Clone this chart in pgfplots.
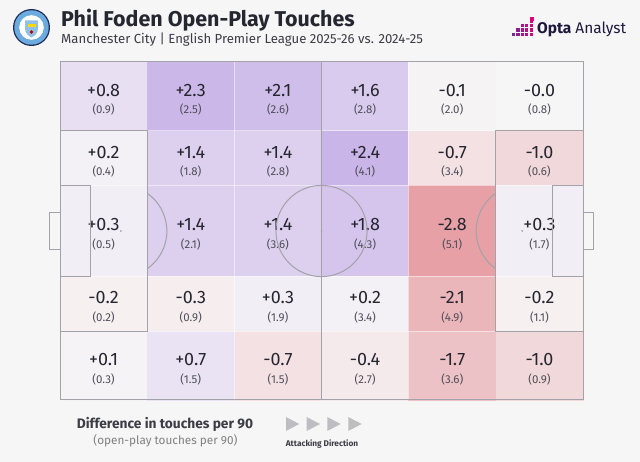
\documentclass[border=0pt]{standalone}
\usepackage{pgfplots}
\pgfplotsset{compat=1.18}
\usepackage{pgfplotstable}
\usepackage{fontspec}
\setmainfont{Fira Sans}

\definecolor{bg}{RGB}{246,246,247}
\definecolor{pitchline}{RGB}{162,162,168}
\definecolor{ink}{RGB}{38,38,48}
\definecolor{subink}{RGB}{78,78,88}
\definecolor{legendink}{RGB}{60,60,68}
\definecolor{arrowgrey}{RGB}{190,190,194}
\definecolor{cityblue}{RGB}{108,171,221}
\definecolor{citynavy}{RGB}{28,44,91}
\definecolor{optanavy}{RGB}{30,24,60}
\definecolor{optapink}{RGB}{226,0,122}
\definecolor{optapurple}{RGB}{120,40,150}

\pgfplotsset{colormap={touchdiff}{
  rgb255(0cm)=(230,155,160)
  rgb255(3cm)=(247,246,247)
  rgb255(6cm)=(190,165,228)}}

\tikzset{pitch/.style={draw=pitchline, line width=1.0bp}}

\pgfdeclareplotmark{blank}{}

% zones: centre x, centre y, half width, half height,
% change in open-play touches per 90, 2025-26 touches per 90
\pgfplotstableread{
x     y      hw    hh    d     t
8.75  61.08  8.75  6.92  +0.8  0.9
26.25 61.08  8.75  6.92  +2.3  2.5
43.75 61.08  8.75  6.92  +2.1  2.6
61.25 61.08  8.75  6.92  +1.6  2.8
78.75 61.08  8.75  6.92  -0.1  2.0
96.25 61.08  8.75  6.92  -0.0  0.8
8.75  48.66  8.75  5.50  +0.2  0.4
26.25 48.66  8.75  5.50  +1.4  1.8
43.75 48.66  8.75  5.50  +1.4  2.8
61.25 48.66  8.75  5.50  +2.4  4.1
78.75 48.66  8.75  5.50  -0.7  3.4
96.25 48.66  8.75  5.50  -1.0  0.6
8.75  34.00  8.75  9.16  +0.3  0.5
26.25 34.00  8.75  9.16  +1.4  2.1
43.75 34.00  8.75  9.16  +1.4  3.6
61.25 34.00  8.75  9.16  +1.8  4.3
78.75 34.00  8.75  9.16  -2.8  5.1
96.25 34.00  8.75  9.16  +0.3  1.7
8.75  19.34  8.75  5.50  -0.2  0.2
26.25 19.34  8.75  5.50  -0.3  0.9
43.75 19.34  8.75  5.50  +0.3  1.9
61.25 19.34  8.75  5.50  +0.2  3.4
78.75 19.34  8.75  5.50  -2.1  4.9
96.25 19.34  8.75  5.50  -0.2  1.1
8.75  6.92   8.75  6.92  +0.1  0.3
26.25 6.92   8.75  6.92  +0.7  1.5
43.75 6.92   8.75  6.92  -0.7  1.5
61.25 6.92   8.75  6.92  -0.4  2.7
78.75 6.92   8.75  6.92  -1.7  3.6
96.25 6.92   8.75  6.92  -1.0  0.9
}\zones

\newcommand{\bigfont}{\fontsize{18}{18}\selectfont}
\newcommand{\smallfont}{\fontsize{11.5}{12}\selectfont}

\begin{document}
\begin{tikzpicture}[x=1bp,y=1bp]
\fill[bg] (0,0) rectangle (640,462);

% club crest
\begin{scope}[shift={(31.5,434.5)}]
  \fill[citynavy] (0,0) circle (18.5);
  \fill[cityblue] (0,0) circle (17.2);
  \fill[white] (0,0) circle (12.3);
  \fill[cityblue!75] (-6.5,7) -- (6.5,7) -- (6.5,-1)
     .. controls (6.5,-6) and (3,-8.5) .. (0,-10)
     .. controls (-3,-8.5) and (-6.5,-6) .. (-6.5,-1) -- cycle;
  \fill[yellow!75!orange] (-4,3.5) rectangle (4,0.5);
  \fill[red!75!black] (0,-4.5) circle (1.8);
\end{scope}

% title block
\node[anchor=base west, inner sep=0, text=ink] at (61,435.3)
  {\fontsize{21.5}{22}\selectfont\bfseries Phil Foden Open-Play Touches};
\node[anchor=base west, inner sep=0, text=legendink] at (61,418.7)
  {\fontsize{13.2}{14}\selectfont Manchester City | English Premier League 2025-26 vs. 2024-25};

% publisher mark
\foreach \c/\h in {0/1,1/2,2/3,3/3,4/4}{
  \foreach \r in {1,...,\h}{
    \pgfmathsetmacro{\mix}{100-20*\c}
    \fill[optapurple!\mix!optapink] (512+4.4*\c,421.5+4.4*\r) rectangle ++(3.2,3.2);
  }
}
\fill[optapink] (529.6,440.5) rectangle ++(4.8,4.8);
\node[anchor=base west, inner sep=0, text=optanavy] at (537,428.7)
  {\fontsize{15.5}{16}\selectfont\textbf{Opta} Analyst};

\begin{axis}[
  at={(60bp,62bp)}, anchor=south west,
  scale only axis, width=523bp, height=338bp,
  xmin=0, xmax=105, ymin=0, ymax=68,
  hide axis, clip=false, set layers=standard,
  colormap name=touchdiff,
  point meta min=-3, point meta max=3,
]
% coloured zones with their labels
\addplot[
  scatter, only marks, mark=blank,
  point meta=\thisrow{d},
  visualization depends on={\thisrow{hw} \as \hw},
  visualization depends on={\thisrow{hh} \as \hh},
  visualization depends on={value \coordindex \as \idx},
  scatter/@pre marker code/.append code={
    \fill[mapped color] (axis direction cs:-\hw,-\hh) rectangle (axis direction cs:\hw,\hh);
    \pgfplotstablegetelem{\idx}{d}\of\zones
    \node[anchor=base, inner sep=0pt, text=ink, font=\bigfont] at (0,0) {\pgfplotsretval};
    \pgfplotstablegetelem{\idx}{t}\of\zones
    \node[anchor=base, inner sep=0pt, text=subink, font=\smallfont] at (0,-17.5bp) {(\pgfplotsretval)};
  },
] table {\zones};

\begin{pgfonlayer}{axis foreground}
% faint zone separators
\pgfplotsinvokeforeach{35,70}{
  \draw[white, opacity=0.5, line width=0.7bp] (axis cs:#1,0) -- (axis cs:#1,68);
}
\pgfplotsinvokeforeach{13.84,24.84,43.16,54.16}{
  \draw[white, opacity=0.5, line width=0.7bp] (axis cs:0,#1) -- (axis cs:105,#1);
}

% pitch markings
\draw[pitch] (axis cs:0,0) rectangle (axis cs:105,68);
\draw[pitch] (axis cs:52.5,0) -- (axis cs:52.5,68);
\draw[pitch] (axis cs:52.5,34) circle[radius=45.6bp];
\fill[pitchline] (axis cs:52.5,34) circle[radius=1.0bp];
% left end
\draw[pitch] (axis cs:0,13.84) -- (axis cs:17.5,13.84) -- (axis cs:17.5,54.16) -- (axis cs:0,54.16);
\draw[pitch] (axis cs:0,24.84) -- (axis cs:6.2,24.84) -- (axis cs:6.2,43.16) -- (axis cs:0,43.16);
\draw[pitch] (axis cs:0,30.34) -- (axis cs:-2.2,30.34) -- (axis cs:-2.2,37.66) -- (axis cs:0,37.66);
\draw[pitch] (axis cs:12.2,34) ++(-55:46.1bp) arc[start angle=-55, end angle=55, radius=46.1bp];
\fill[pitchline] (axis cs:12.2,34) circle[radius=1.0bp];
% right end
\draw[pitch] (axis cs:105,13.84) -- (axis cs:87.5,13.84) -- (axis cs:87.5,54.16) -- (axis cs:105,54.16);
\draw[pitch] (axis cs:105,24.84) -- (axis cs:98.8,24.84) -- (axis cs:98.8,43.16) -- (axis cs:105,43.16);
\draw[pitch] (axis cs:105,30.34) -- (axis cs:107.2,30.34) -- (axis cs:107.2,37.66) -- (axis cs:105,37.66);
\draw[pitch] (axis cs:92.8,34) ++(125:46.1bp) arc[start angle=125, end angle=235, radius=46.1bp];
\fill[pitchline] (axis cs:92.8,34) circle[radius=1.0bp];
\end{pgfonlayer}
\end{axis}

% key
\node[anchor=base, inner sep=0, text=legendink] at (165,33.7)
  {\fontsize{13.8}{14}\selectfont\bfseries Difference in touches per 90};
\node[anchor=base, inner sep=0, text=gray] at (165.5,17)
  {\fontsize{11.8}{12}\selectfont (open-play touches per 90)};
\foreach \ax in {286,306.7,327.3,348.3}{
  \fill[arrowgrey] (\ax,45) -- (\ax+13.3,38) -- (\ax,31) -- cycle;
}
\node[anchor=base, inner sep=0, text=legendink] at (322,15.3)
  {\fontsize{8.3}{8.5}\selectfont\bfseries Attacking Direction};
\end{tikzpicture}
\end{document}
